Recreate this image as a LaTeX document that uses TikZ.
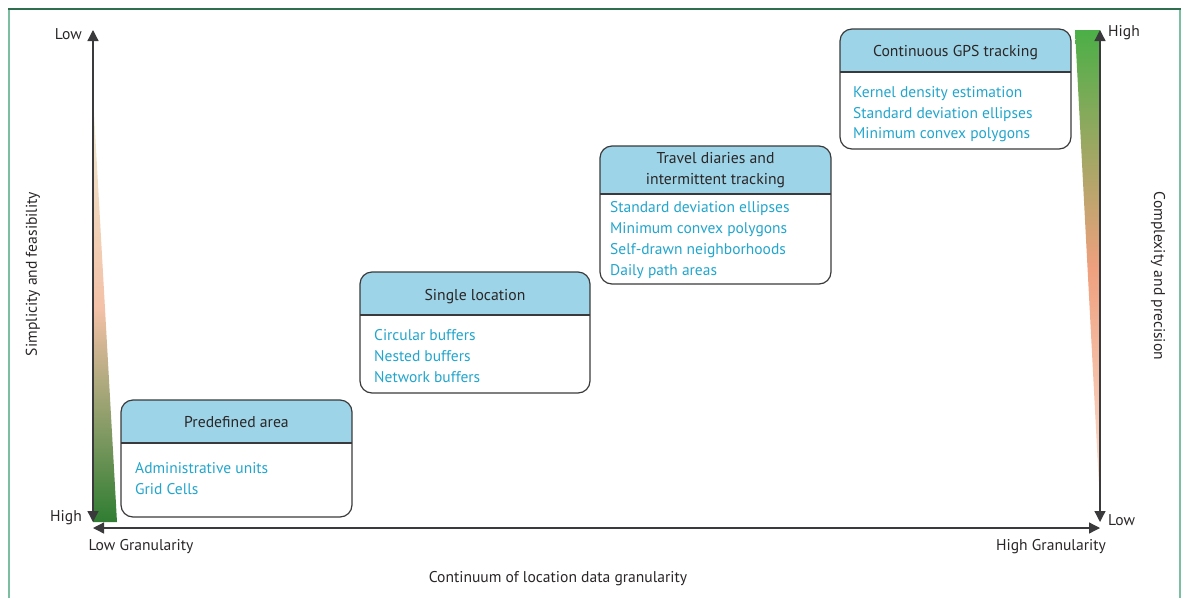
\documentclass[tikz,border=0pt]{standalone}
\usepackage{fontspec}
\setmainfont{PT Sans}
\usetikzlibrary{arrows.meta}
\definecolor{boxline}{HTML}{3A3A3C}
\definecolor{hdrfill}{HTML}{9DD4E7}
\definecolor{itemcol}{HTML}{22A5CC}
\definecolor{labcol}{HTML}{2A2627}
\definecolor{axiscol}{HTML}{3A3A3C}
\definecolor{frameL}{HTML}{7BBEA2}
\definecolor{frameT}{HTML}{2F6F50}
\definecolor{wLtop}{HTML}{EEECD2}
\definecolor{wLmid}{HTML}{F3C1A7}
\definecolor{wLbot}{HTML}{2F7D32}
\definecolor{wRtop}{HTML}{4BAF47}
\definecolor{wRmid}{HTML}{EFA07E}
\definecolor{wRbot}{HTML}{FBE3D6}
\tikzset{
  card/.style={draw=boxline, line width=1.2pt, rounded corners=12pt, inner sep=0pt},
  hdrtext/.style={text=labcol, font=\fontsize{15.7}{19}\selectfont, align=center, inner sep=0pt},
  itemtext/.style={text=itemcol, font=\fontsize{15.5}{19}\selectfont, anchor=base west, inner sep=0pt},
  lab/.style={text=labcol, font=\fontsize{15.6}{19}\selectfont, inner sep=0pt},
  axisline/.style={draw=axiscol, line width=1.3pt, {Triangle[width=11pt,length=11pt]}-{Triangle[width=11pt,length=11pt]}},
}
\begin{document}
\begin{tikzpicture}[x=1pt,y=-1pt]
\useasboundingbox (0,0) rectangle (1184,598);
% frame
\draw[frameL, line width=2pt] (9,598) -- (9,9);
\draw[frameL, line width=2pt] (1180,9) -- (1180,598);
\draw[frameT, line width=1.5pt] (8,9) -- (1181,9);

% gradient wedges
\shade[top color=wLtop, bottom color=wLbot, middle color=wLmid]
  (93,95) -- (117,522) -- (93,522) -- cycle;
\shade[top color=wRtop, bottom color=wRbot, middle color=wRmid]
  (1075,30) -- (1100,30) -- (1100,505) -- cycle;

% axes
\coordinate (lt) at (93,30);
\coordinate (lb) at (93,522);
\coordinate (rt) at (1100,30);
\coordinate (rb) at (1100,522);
\coordinate (hl) at (93,528);
\coordinate (hr) at (1100,528);
\draw[axisline] (lb) -- (lt);
\draw[axisline] (rb) -- (rt);
\draw[axisline] (hl) -- (hr);

% axis labels
\node[lab, anchor=east] (lowL) at (82,34) {Low};
\node[lab, anchor=east] (highL) at (82,518) {High};
\node[lab, anchor=west] (highR) at (1108,33) {High};
\node[lab, anchor=west] (lowR) at (1108,520) {Low};
\node[lab] (lowG) at (141,547) {Low Granularity};
\node[lab] (highG) at (1051,547) {High Granularity};
\node[lab] (cont) at (558,579) {Continuum of location data granularity};
\node[lab, rotate=90] (simp) at (33,274) {Simplicity and feasibility};
\node[lab, rotate=-90] (comp) at (1158,276) {Complexity and precision};

% box 1
\begin{scope}
\clip[rounded corners=12pt] (121,400) rectangle (352,517);
\fill[hdrfill] (121,400) rectangle (352,443);
\end{scope}
\draw[boxline, line width=1.2pt] (121,443) -- (352,443);
\node[card, minimum width=231pt, minimum height=117pt] (b1) at (236.5,458.5) {};
\node[hdrtext] (h1) at (236.5,422) {Predefined area};
\node[itemtext] (i1a) at (135,473) {Administrative units};
\node[itemtext] (i1b) at (135,494) {Grid Cells};

% box 2
\begin{scope}
\clip[rounded corners=12pt] (360,272) rectangle (590,393);
\fill[hdrfill] (360,272) rectangle (590,315);
\end{scope}
\draw[boxline, line width=1.2pt] (360,315) -- (590,315);
\node[card, minimum width=230pt, minimum height=121pt] (b2) at (475,332.5) {};
\node[hdrtext] (h2) at (475,297) {Single location};
\node[itemtext] (i2a) at (374,340) {Circular buffers};
\node[itemtext] (i2b) at (374,361) {Nested buffers};
\node[itemtext] (i2c) at (374,382) {Network buffers};

% box 3
\begin{scope}
\clip[rounded corners=12pt] (600,146) rectangle (831,284);
\fill[hdrfill] (600,146) rectangle (831,194);
\end{scope}
\draw[boxline, line width=1.2pt] (600,194) -- (831,194);
\node[card, minimum width=231pt, minimum height=138pt] (b3) at (715.5,215) {};
\node[hdrtext] (h3) at (715.5,170.5) {Travel diaries and\\[2pt]intermittent tracking};
\node[itemtext] (i3a) at (610,212) {Standard deviation ellipses};
\node[itemtext] (i3b) at (610,233) {Minimum convex polygons};
\node[itemtext] (i3c) at (610,254) {Self-drawn neighborhoods};
\node[itemtext] (i3d) at (610,275) {Daily path areas};

% box 4
\begin{scope}
\clip[rounded corners=12pt] (840,29) rectangle (1071,149);
\fill[hdrfill] (840,29) rectangle (1071,72);
\end{scope}
\draw[boxline, line width=1.2pt] (840,72) -- (1071,72);
\node[card, minimum width=231pt, minimum height=120pt] (b4) at (955.5,89) {};
\node[hdrtext] (h4) at (955.5,53) {Continuous GPS tracking};
\node[itemtext] (i4a) at (853,97) {Kernel density estimation};
\node[itemtext] (i4b) at (853,118) {Standard deviation ellipses};
\node[itemtext] (i4c) at (853,138) {Minimum convex polygons};
\end{tikzpicture}
\end{document}
